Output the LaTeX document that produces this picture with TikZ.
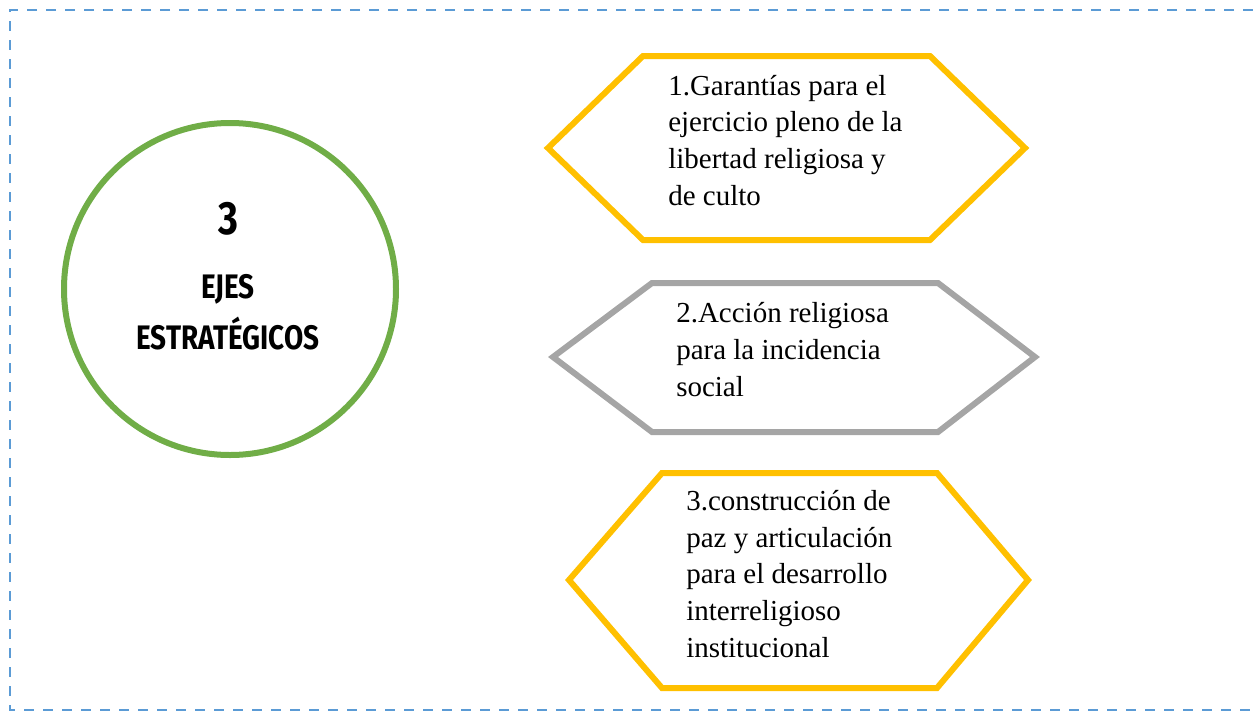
\documentclass[tikz,border=0pt]{standalone}
\usepackage{fontspec}
\setmainfont{Liberation Serif}
\newfontfamily\headfont{Fira Sans}
\definecolor{borderblue}{RGB}{91,155,213}
\definecolor{ejegreen}{RGB}{112,173,71}
\definecolor{ejeyellow}{RGB}{255,192,0}
\definecolor{ejegray}{RGB}{165,165,165}
\begin{document}
\begin{tikzpicture}[x=0.75pt,y=-0.75pt,
  hexline/.style={line width=4.5pt, line join=miter},
  item/.style={anchor=base west, inner sep=0pt, align=left, font=\fontsize{21.75pt}{27.4pt}\selectfont},
  head/.style={inner sep=0pt, font=\headfont\bfseries}]
\useasboundingbox (0,0) rectangle (1253,711);
\draw[borderblue, line width=1.8pt, dash pattern=on 7.5pt off 6.75pt] (1253,10) -- (10,10) -- (10,710) -- (1253,710);
\node[circle, draw=ejegreen, line width=4.5pt, minimum size=249pt, inner sep=0pt] (circ) at (230,289) {};
\node[head, font=\headfont\bfseries\fontsize{35pt}{40pt}\selectfont] (num) at (228,219) {\scalebox{0.82}[1]{3}};
\node[head, font=\headfont\bfseries\fontsize{25.5pt}{30pt}\selectfont] (ejes) at (228,289) {\scalebox{0.82}[1]{EJES}};
\node[head, font=\headfont\bfseries\fontsize{25.5pt}{30pt}\selectfont] (estr) at (228,334) {\scalebox{0.82}[1]{ESTRATÉGICOS}};
\draw[hexline, ejeyellow] (548,148) -- (643,56) -- (930,56) -- (1025,148) -- (930,240) -- (643,240) -- cycle;
\draw[hexline, ejegray] (553,357) -- (652,283) -- (938,283) -- (1035,357) -- (938,432) -- (652,432) -- cycle;
\draw[hexline, ejeyellow] (569,580) -- (662,473) -- (937,473) -- (1028,580) -- (937,688) -- (662,688) -- cycle;
\node[item] (t1) at (668,205) {1.Garantías para el\\ejercicio pleno de la\\libertad religiosa y\\de culto};
\node[item] (t2) at (676,396) {2.Acción religiosa\\para la incidencia\\social};
\node[item] (t3) at (686,657) {3.construcción de\\paz y articulación\\para el desarrollo\\interreligioso\\institucional};
\end{tikzpicture}
\end{document}
